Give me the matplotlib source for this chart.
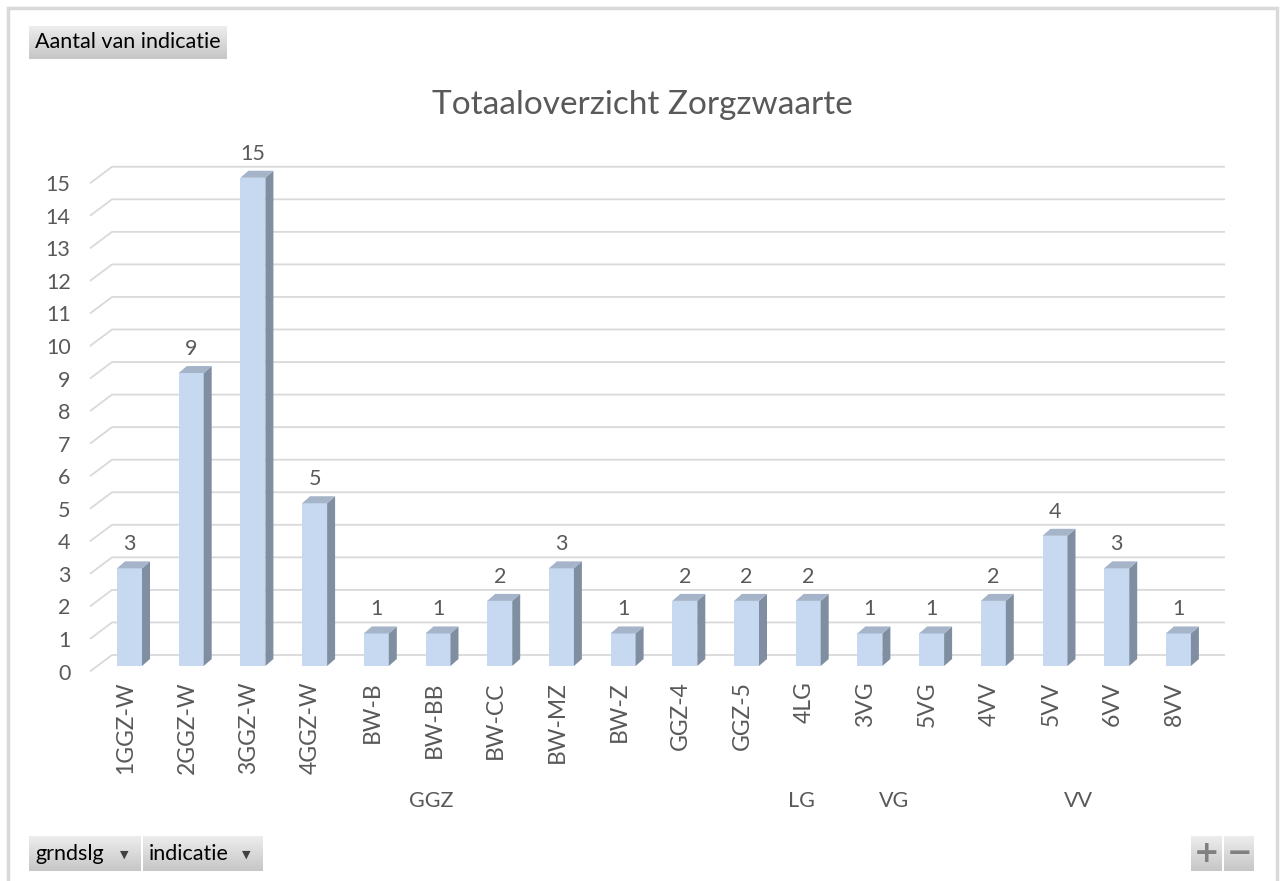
import numpy as np
import matplotlib
matplotlib.use('Agg')
import matplotlib.pyplot as plt
from matplotlib.patches import Polygon, Rectangle
from matplotlib.colors import LinearSegmentedColormap
from matplotlib.transforms import ScaledTranslation, blended_transform_factory

plt.rcParams['font.family'] = ['Lato', 'DejaVu Sans']

# gegevens van de draaitabel
categorieen = ['1GGZ-W', '2GGZ-W', '3GGZ-W', '4GGZ-W', 'BW-B', 'BW-BB', 'BW-CC',
               'BW-MZ', 'BW-Z', 'GGZ-4', 'GGZ-5', '4LG', '3VG', '5VG',
               '4VV', '5VV', '6VV', '8VV']
aantallen = [3, 9, 15, 5, 1, 1, 2, 3, 1, 2, 2, 2, 1, 1, 2, 4, 3, 1]
groepen = ['GGZ', 'LG', 'VG', 'VV']
groep_grootte = [11, 1, 2, 4]
y_ticks = list(range(0, 16))

GRIJS = '#595959'
W, H = 1280, 881

fig = plt.figure(figsize=(W / 100, H / 100), dpi=100)
fig.patch.set_facecolor('white')

# schaal in pixels (eerste staaf, afstand tussen staven, nul-lijn)
x_start, x_stap = 129.5, 61.7
y_nul, y_stap = 666, 32.55
links, rechts, boven, onder = 90, 1225, 150, 680

ax = fig.add_axes([links / W, 1 - onder / H, (rechts - links) / W, (onder - boven) / H])
ax.set_xlim((links - x_start) / x_stap, (rechts - x_start) / x_stap)
ax.set_ylim(-(onder - y_nul) / y_stap, (y_nul - boven) / y_stap)
for s in ax.spines.values():
    s.set_visible(False)
ax.set_facecolor('none')

x0, x1 = ax.get_xlim()

# 3D-rasterlijnen
for v in y_ticks:
    xs = [x0, x0 + 22 / x_stap, x1]
    ys = [v - 5.5 / y_stap, v + 11 / y_stap, v + 11 / y_stap]
    ax.plot(xs, ys, color='#D9D9D9', lw=1.3, zorder=1, clip_on=False,
            solid_capstyle='butt')

# staven met zij- en bovenvlak
x = np.arange(len(categorieen))
breedte = 25 / x_stap
dx, dy = 8 / x_stap, 7 / y_stap
ax.bar(x, aantallen, width=breedte, color='#C6D9F1', zorder=3)
for xi, v in zip(x, aantallen):
    l, r = xi - breedte / 2, xi + breedte / 2
    ax.add_patch(Polygon([(r, 0), (r, v), (r + dx, v + dy), (r + dx, dy)],
                         closed=True, color='#7F8FA1', zorder=3, lw=0))
    ax.add_patch(Polygon([(l, v), (r, v), (r + dx, v + dy), (l + dx, v + dy)],
                         closed=True, color='#A5B4C8', zorder=3, lw=0))
    ax.text(xi, v + 24 / y_stap, str(v), ha='center', va='center',
            fontsize=15.5, color=GRIJS, zorder=4)

# assen
ax.set_yticks(y_ticks)
ax.set_yticklabels([str(t) for t in y_ticks], fontsize=15.5, color=GRIJS)
ax.tick_params(axis='y', length=0, pad=14)
for lbl in ax.get_yticklabels():
    lbl.set_transform(lbl.get_transform() + ScaledTranslation(0, -5.5 / 100, fig.dpi_scale_trans))

ax.set_xticks(x)
ax.set_xticklabels(categorieen, rotation=90, fontsize=16.5, color=GRIJS)
ax.tick_params(axis='x', length=0, pad=1)
for lbl in ax.get_xticklabels():
    lbl.set_transform(lbl.get_transform() + ScaledTranslation(-4 / 100, 0, fig.dpi_scale_trans))

# groepslabels onder de categorieen
trans = blended_transform_factory(ax.transData, fig.transFigure)
begin = 0
for naam, n in zip(groepen, groep_grootte):
    midden = begin + (n - 1) / 2 - 7 / x_stap
    ax.text(midden, 1 - 801 / H, naam, transform=trans, ha='center', va='center',
            fontsize=15.5, color=GRIJS)
    begin += n

fig.text(642 / W, 1 - 105 / H, 'Totaaloverzicht Zorgzwaarte', ha='center', va='center',
         fontsize=24, color=GRIJS)

# kader rond de grafiek
fig.patches.append(Rectangle((8 / W, -0.02), 1269 / W, 1.02 - 8 / H, transform=fig.transFigure,
                             fill=False, ec='#D9D9D9', lw=2.5))

# knoppen van de draaigrafiek
verloop = LinearSegmentedColormap.from_list('knop', ['#EDEDED', '#C6C6C6'])


def knop(xa, ya, xb, yb, tekst='', pijl=False, teken=None):
    bax = fig.add_axes([xa / W, 1 - yb / H, (xb - xa) / W, (yb - ya) / H])
    bax.imshow(np.linspace(0, 1, 64).reshape(-1, 1), cmap=verloop, aspect='auto',
               extent=[0, 1, 0, 1])
    bax.axis('off')
    if tekst:
        bax.text(6 / (xb - xa), 0.5, tekst, ha='left', va='center', fontsize=15.5,
                 color='black', transform=bax.transAxes)
    if pijl:
        bax.text(1 - 17 / (xb - xa), 0.47, '\u25BC', ha='center', va='center', fontsize=8,
                 color='#404040', transform=bax.transAxes, family='DejaVu Sans')
    if teken:
        bax.text(0.5, 0.5, teken, ha='center', va='center', fontsize=22, fontweight='bold',
                 color='#808080', transform=bax.transAxes, family='DejaVu Sans')


knop(29, 26, 227, 59, 'Aantal van indicatie')
knop(29, 836, 141, 871, 'grndslg', pijl=True)
knop(143, 836, 263, 871, 'indicatie', pijl=True)
knop(1191, 836, 1222, 871, teken='+')
knop(1224, 836, 1254, 871, teken='\u2212')

fig.savefig('out.png', dpi=100)
